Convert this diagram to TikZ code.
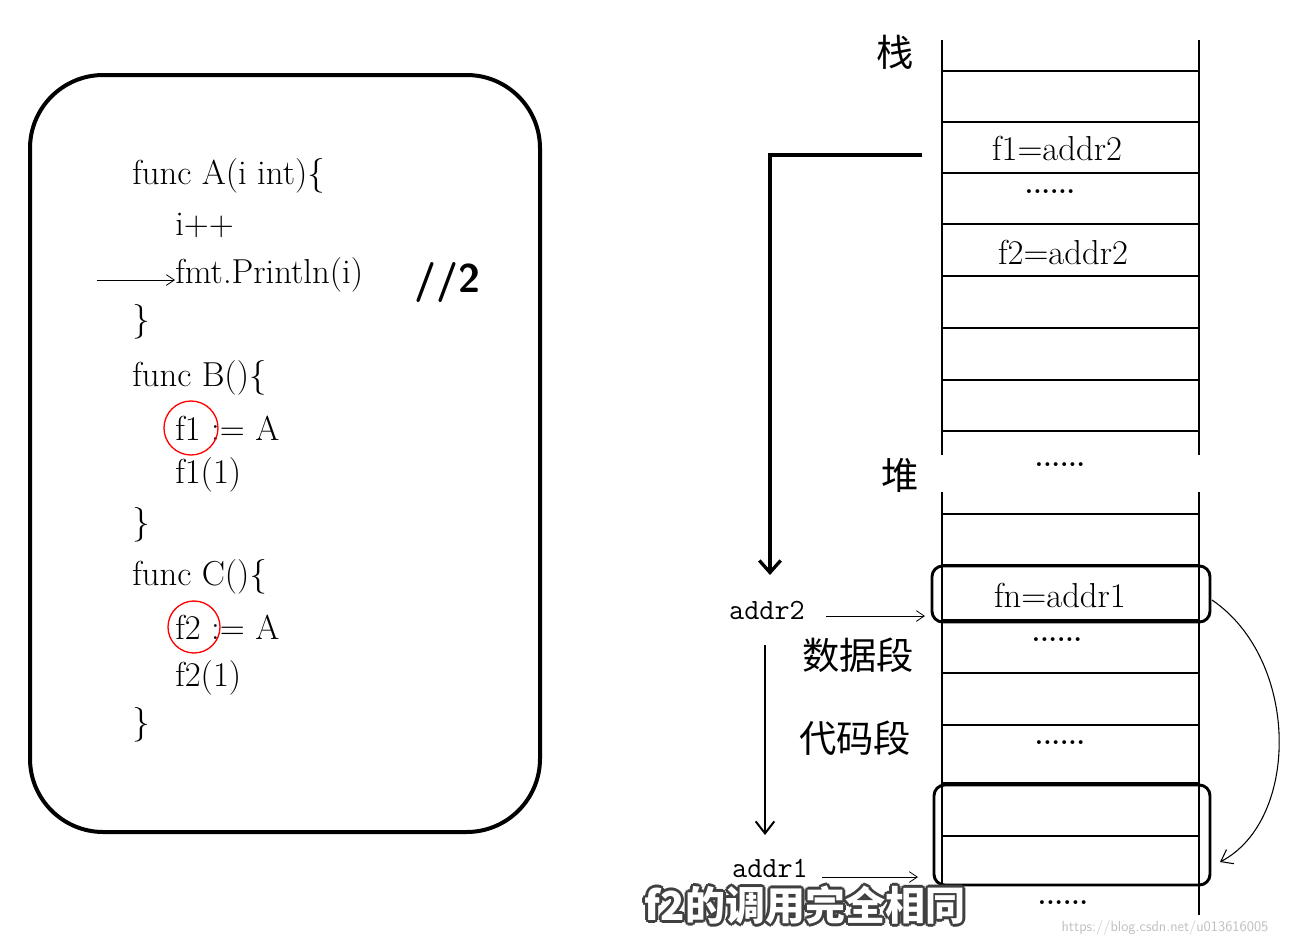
\documentclass[tikz,border=0pt]{standalone}
\usepackage{fontspec}
\newfontfamily\cjk{Noto Sans CJK SC}
\usetikzlibrary{arrows.meta}
\begin{document}
\begin{tikzpicture}[x=0.75pt,y=-0.75pt,
  code/.style={anchor=west,inner sep=0,font=\fontsize{26}{28}\selectfont},
  cell/.style={font=\fontsize{26}{28}\selectfont},
  dots/.style={font=\bfseries\fontsize{20}{20}\selectfont},
  zh/.style={font=\cjk\fontsize{28}{30}\selectfont},
  thin/.style={line width=0.6pt,-{Straight Barb[length=6pt,width=8pt]}},
  mono/.style={font=\ttfamily\fontsize{22}{24}\selectfont},
  subt/.style={font=\cjk\bfseries\fontsize{30}{30}\selectfont}]
\useasboundingbox (0,0) rectangle (1293,946);
% left box
\draw[line width=3pt,rounded corners=55] (30,75) rectangle (540,832);
\node[code] (l1) at (132,176) {func A(i int)\{};
\node[code] (l2) at (175,225) {i++};
\node[code] (l3) at (175,275) {fmt.Println(i)};
\node[anchor=west,font=\sffamily\bfseries\fontsize{30}{30}\selectfont] (c2) at (410,282) {//2};
\node[code] (l4) at (132,322) {\}};
\node[code] (l5) at (132,378) {func B()\{};
\node[code] (l6) at (175,428) {f1 := A};
\node[code] (l7) at (175,475) {f1(1)};
\node[code] (l8) at (132,525) {\}};
\node[code] (l9) at (132,577) {func C()\{};
\node[code] (l10) at (175,627) {f2 := A};
\node[code] (l11) at (175,678) {f2(1)};
\node[code] (l12) at (132,725) {\}};
\draw[red,line width=1pt] (191,428) circle (27);
\draw[red,line width=1pt] (194,627) circle (26);
\coordinate (pa) at (97,280);
\draw[thin] (pa) -- (pa -| l3.west);
% stack
\draw[line width=2pt] (942,40) -- (942,455) (942,492) -- (942,915);
\draw[line width=2pt] (1199,40) -- (1199,455) (1199,492) -- (1199,915);
\foreach \y in {71,122,173,224,276,328,380,431,514,565,620,673,725,783,836,885}
  \draw[line width=1.8pt] (942,\y) -- (1199,\y);
\draw[line width=2.2pt,rounded corners=8] (932,566) rectangle (1210,622);
\draw[line width=2.2pt,rounded corners=8] (934,785) rectangle (1210,885);
\node[zh] (zhan) at (895,52) {栈};
\node[zh] (dui) at (900,475) {堆};
\node[zh] (sj) at (858,655) {数据段};
\node[zh] (dm) at (855,738) {代码段};
\node[cell] (f1) at (1057,148) {f1=addr2};
\node[dots] at (1050,192) {......};
\node[cell] (f2) at (1063,252) {f2=addr2};
\node[dots] at (1060,465) {......};
\node[cell] (fn) at (1060,595) {fn=addr1};
\node[dots] at (1057,640) {......};
\node[dots] at (1060,743) {......};
\node[dots] at (1063,903) {......};
% arrows
\coordinate (s1) at (922,155);
\coordinate (s2) at (770,575);
\draw[line width=2.5pt,-{Straight Barb[length=9pt,width=16pt]}] (s1) -- (770,155) -- (s2);
\node[mono] (a2) at (767,610) {addr2};
\coordinate (a2e) at (925,616);
\draw[thin] (826,616) -- (a2e);
\coordinate (v1) at (765,645); \coordinate (v2) at (765,835);
\draw[line width=1.5pt,-{Straight Barb[length=9pt,width=14pt]}] (v1) -- (v2);
\node[mono] (a1) at (770,868) {addr1};
\coordinate (a1e) at (918,877);
\draw[thin] (822,877) -- (a1e);
\coordinate (cs) at (1212,600); \coordinate (ce) at (1220,862);
\draw[line width=0.8pt,-{Straight Barb[length=8pt,width=12pt]}] (cs) .. controls (1300,660) and (1300,820) .. (ce);
% subtitle with dark outline
\foreach \dx/\dy in {-2/-2,0/-3,2/-2,3/0,2/2,0/3,-2/2,-3/0}
  \node[subt,text=black!75] at (805+\dx,905+\dy) {f2的调用完全相同};
\node[subt,text=white] (sub) at (805,905) {f2的调用完全相同};
\node[font=\sffamily\fontsize{11}{11}\selectfont,text=black!25] (wm) at (1165,928) {https://blog.csdn.net/u013616005};
\end{tikzpicture}
\end{document}
